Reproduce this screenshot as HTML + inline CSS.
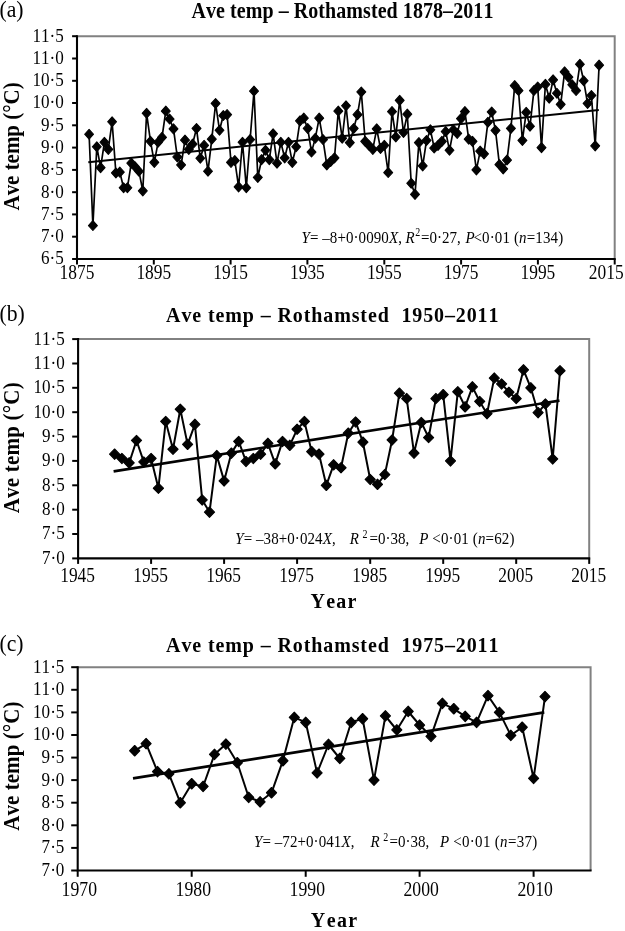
<!DOCTYPE html>
<html><head><meta charset="utf-8"><title>Ave temp Rothamsted</title>
<style>
html,body{margin:0;padding:0;background:#fff;}
body{width:625px;height:931px;overflow:hidden;font-family:"Liberation Serif",serif;}
svg{display:block;}
svg text{font-family:"Liberation Serif",serif;fill:#000;font-kerning:none;}
</style></head><body>
<svg width="625" height="931" viewBox="0 0 625 931">
<rect width="625" height="931" fill="#fff"/>
<g opacity="0.995">
<path d="M77.0 36.2H614.7V259.0" fill="none" stroke="#808080" stroke-width="2" stroke-linejoin="miter"/>
<path d="M77.0 35.2V259.0H615.7" fill="none" stroke="#000" stroke-width="2.1"/>
<path d="M72.1 259.0H77.0" stroke="#000" stroke-width="2.0"/>
<text transform="translate(63.7 264.4) scale(1 1.16)" font-size="17.1" text-anchor="end" >6·5</text>
<path d="M72.1 236.7H77.0" stroke="#000" stroke-width="2.0"/>
<text transform="translate(63.7 242.1) scale(1 1.16)" font-size="17.1" text-anchor="end" >7·0</text>
<path d="M72.1 214.4H77.0" stroke="#000" stroke-width="2.0"/>
<text transform="translate(63.7 219.8) scale(1 1.16)" font-size="17.1" text-anchor="end" >7·5</text>
<path d="M72.1 192.2H77.0" stroke="#000" stroke-width="2.0"/>
<text transform="translate(63.7 197.6) scale(1 1.16)" font-size="17.1" text-anchor="end" >8·0</text>
<path d="M72.1 169.9H77.0" stroke="#000" stroke-width="2.0"/>
<text transform="translate(63.7 175.3) scale(1 1.16)" font-size="17.1" text-anchor="end" >8·5</text>
<path d="M72.1 147.6H77.0" stroke="#000" stroke-width="2.0"/>
<text transform="translate(63.7 153.0) scale(1 1.16)" font-size="17.1" text-anchor="end" >9·0</text>
<path d="M72.1 125.3H77.0" stroke="#000" stroke-width="2.0"/>
<text transform="translate(63.7 130.7) scale(1 1.16)" font-size="17.1" text-anchor="end" >9·5</text>
<path d="M72.1 103.0H77.0" stroke="#000" stroke-width="2.0"/>
<text transform="translate(63.7 108.4) scale(1 1.16)" font-size="17.1" text-anchor="end" >10·0</text>
<path d="M72.1 80.8H77.0" stroke="#000" stroke-width="2.0"/>
<text transform="translate(63.7 86.2) scale(1 1.16)" font-size="17.1" text-anchor="end" >10·5</text>
<path d="M72.1 58.5H77.0" stroke="#000" stroke-width="2.0"/>
<text transform="translate(63.7 63.9) scale(1 1.16)" font-size="17.1" text-anchor="end" >11·0</text>
<path d="M72.1 36.2H77.0" stroke="#000" stroke-width="2.0"/>
<text transform="translate(63.7 41.6) scale(1 1.16)" font-size="17.1" text-anchor="end" >11·5</text>
<path d="M77.0 259.0V264.5" stroke="#000" stroke-width="2.0"/>
<text transform="translate(77.0 279.0) scale(1 1.16)" font-size="17.4" text-anchor="middle" >1875</text>
<path d="M153.8 259.0V264.5" stroke="#000" stroke-width="2.0"/>
<text transform="translate(153.8 279.0) scale(1 1.16)" font-size="17.4" text-anchor="middle" >1895</text>
<path d="M230.6 259.0V264.5" stroke="#000" stroke-width="2.0"/>
<text transform="translate(230.6 279.0) scale(1 1.16)" font-size="17.4" text-anchor="middle" >1915</text>
<path d="M307.4 259.0V264.5" stroke="#000" stroke-width="2.0"/>
<text transform="translate(307.4 279.0) scale(1 1.16)" font-size="17.4" text-anchor="middle" >1935</text>
<path d="M384.3 259.0V264.5" stroke="#000" stroke-width="2.0"/>
<text transform="translate(384.3 279.0) scale(1 1.16)" font-size="17.4" text-anchor="middle" >1955</text>
<path d="M461.1 259.0V264.5" stroke="#000" stroke-width="2.0"/>
<text transform="translate(461.1 279.0) scale(1 1.16)" font-size="17.4" text-anchor="middle" >1975</text>
<path d="M537.9 259.0V264.5" stroke="#000" stroke-width="2.0"/>
<text transform="translate(537.9 279.0) scale(1 1.16)" font-size="17.4" text-anchor="middle" >1995</text>
<path d="M614.7 259.0V264.5" stroke="#000" stroke-width="2.0"/>
<text transform="translate(606.2 279.0) scale(1 1.16)" font-size="17.4" text-anchor="middle" >2015</text>
<polyline points="89.1,134.2 92.9,225.6 96.8,146.7 100.6,167.7 104.4,142.3 108.3,149.4 112.1,121.8 115.9,173.0 119.8,172.1 123.6,187.7 127.4,187.7 131.3,163.2 135.1,166.8 138.9,171.2 142.8,190.8 146.6,113.3 150.5,141.4 154.3,162.3 158.1,142.3 162.0,137.4 165.8,111.1 169.6,119.1 173.5,128.9 177.3,157.0 181.1,165.0 185.0,140.0 188.8,149.4 192.6,144.0 196.5,128.4 200.3,158.3 204.1,145.4 208.0,171.2 211.8,139.1 215.6,103.5 219.5,130.2 223.3,115.5 227.1,114.6 231.0,162.3 234.8,160.5 238.6,186.8 242.5,142.3 246.3,187.7 250.1,139.6 254.0,91.0 257.8,177.5 261.6,159.6 265.5,150.3 269.3,159.6 273.1,133.8 277.0,163.2 280.8,142.3 284.7,157.8 288.5,142.3 292.3,162.3 296.2,146.7 300.0,120.9 303.8,118.2 307.7,128.4 311.5,152.1 315.3,138.2 319.2,118.2 323.0,139.6 326.8,165.0 330.7,161.4 334.5,157.8 338.3,111.1 342.2,138.2 346.0,105.7 349.8,142.7 353.7,128.4 357.5,114.6 361.3,91.9 365.2,141.4 369.0,145.4 372.8,149.4 376.7,128.9 380.5,148.5 384.3,145.4 388.2,172.6 392.0,111.5 395.8,136.9 399.7,100.4 403.5,132.4 407.3,114.2 411.2,183.2 415.0,194.4 418.9,142.7 422.7,165.9 426.5,140.5 430.4,129.8 434.2,148.0 438.0,145.4 441.9,141.4 445.7,131.6 449.5,150.3 453.4,129.8 457.2,133.3 461.0,118.6 464.9,111.5 468.7,139.1 472.5,141.4 476.4,169.9 480.2,151.2 484.0,153.8 487.9,122.2 491.7,112.0 495.5,130.4 499.4,164.5 503.2,169.0 507.0,160.1 510.9,128.4 514.7,85.7 518.5,90.6 522.4,140.5 526.2,112.4 530.0,126.2 533.9,90.6 537.7,87.0 541.5,147.6 545.4,84.3 549.2,98.1 553.1,79.9 556.9,93.2 560.7,104.4 564.6,71.8 568.4,77.2 572.2,84.8 576.1,90.6 579.9,64.3 583.7,80.8 587.6,103.5 591.4,95.5 595.2,145.8 599.1,65.2" fill="none" stroke="#000" stroke-width="1.7" stroke-linejoin="round"/>
<path d="M89.1 129.3l4.45 4.95l-4.45 4.95l-4.45 -4.95zM92.9 220.6l4.45 4.95l-4.45 4.95l-4.45 -4.95zM96.8 141.8l4.45 4.95l-4.45 4.95l-4.45 -4.95zM100.6 162.7l4.45 4.95l-4.45 4.95l-4.45 -4.95zM104.4 137.3l4.45 4.95l-4.45 4.95l-4.45 -4.95zM108.3 144.4l4.45 4.95l-4.45 4.95l-4.45 -4.95zM112.1 116.8l4.45 4.95l-4.45 4.95l-4.45 -4.95zM115.9 168.0l4.45 4.95l-4.45 4.95l-4.45 -4.95zM119.8 167.2l4.45 4.95l-4.45 4.95l-4.45 -4.95zM123.6 182.8l4.45 4.95l-4.45 4.95l-4.45 -4.95zM127.4 182.8l4.45 4.95l-4.45 4.95l-4.45 -4.95zM131.3 158.2l4.45 4.95l-4.45 4.95l-4.45 -4.95zM135.1 161.8l4.45 4.95l-4.45 4.95l-4.45 -4.95zM138.9 166.3l4.45 4.95l-4.45 4.95l-4.45 -4.95zM142.8 185.9l4.45 4.95l-4.45 4.95l-4.45 -4.95zM146.6 108.3l4.45 4.95l-4.45 4.95l-4.45 -4.95zM150.5 136.4l4.45 4.95l-4.45 4.95l-4.45 -4.95zM154.3 157.4l4.45 4.95l-4.45 4.95l-4.45 -4.95zM158.1 137.3l4.45 4.95l-4.45 4.95l-4.45 -4.95zM162.0 132.4l4.45 4.95l-4.45 4.95l-4.45 -4.95zM165.8 106.1l4.45 4.95l-4.45 4.95l-4.45 -4.95zM169.6 114.1l4.45 4.95l-4.45 4.95l-4.45 -4.95zM173.5 123.9l4.45 4.95l-4.45 4.95l-4.45 -4.95zM177.3 152.0l4.45 4.95l-4.45 4.95l-4.45 -4.95zM181.1 160.0l4.45 4.95l-4.45 4.95l-4.45 -4.95zM185.0 135.1l4.45 4.95l-4.45 4.95l-4.45 -4.95zM188.8 144.4l4.45 4.95l-4.45 4.95l-4.45 -4.95zM192.6 139.1l4.45 4.95l-4.45 4.95l-4.45 -4.95zM196.5 123.5l4.45 4.95l-4.45 4.95l-4.45 -4.95zM200.3 153.3l4.45 4.95l-4.45 4.95l-4.45 -4.95zM204.1 140.4l4.45 4.95l-4.45 4.95l-4.45 -4.95zM208.0 166.3l4.45 4.95l-4.45 4.95l-4.45 -4.95zM211.8 134.2l4.45 4.95l-4.45 4.95l-4.45 -4.95zM215.6 98.5l4.45 4.95l-4.45 4.95l-4.45 -4.95zM219.5 125.3l4.45 4.95l-4.45 4.95l-4.45 -4.95zM223.3 110.6l4.45 4.95l-4.45 4.95l-4.45 -4.95zM227.1 109.7l4.45 4.95l-4.45 4.95l-4.45 -4.95zM231.0 157.4l4.45 4.95l-4.45 4.95l-4.45 -4.95zM234.8 155.6l4.45 4.95l-4.45 4.95l-4.45 -4.95zM238.6 181.9l4.45 4.95l-4.45 4.95l-4.45 -4.95zM242.5 137.3l4.45 4.95l-4.45 4.95l-4.45 -4.95zM246.3 182.8l4.45 4.95l-4.45 4.95l-4.45 -4.95zM250.1 134.6l4.45 4.95l-4.45 4.95l-4.45 -4.95zM254.0 86.1l4.45 4.95l-4.45 4.95l-4.45 -4.95zM257.8 172.5l4.45 4.95l-4.45 4.95l-4.45 -4.95zM261.6 154.7l4.45 4.95l-4.45 4.95l-4.45 -4.95zM265.5 145.3l4.45 4.95l-4.45 4.95l-4.45 -4.95zM269.3 154.7l4.45 4.95l-4.45 4.95l-4.45 -4.95zM273.1 128.8l4.45 4.95l-4.45 4.95l-4.45 -4.95zM277.0 158.2l4.45 4.95l-4.45 4.95l-4.45 -4.95zM280.8 137.3l4.45 4.95l-4.45 4.95l-4.45 -4.95zM284.7 152.9l4.45 4.95l-4.45 4.95l-4.45 -4.95zM288.5 137.3l4.45 4.95l-4.45 4.95l-4.45 -4.95zM292.3 157.4l4.45 4.95l-4.45 4.95l-4.45 -4.95zM296.2 141.8l4.45 4.95l-4.45 4.95l-4.45 -4.95zM300.0 115.9l4.45 4.95l-4.45 4.95l-4.45 -4.95zM303.8 113.2l4.45 4.95l-4.45 4.95l-4.45 -4.95zM307.7 123.5l4.45 4.95l-4.45 4.95l-4.45 -4.95zM311.5 147.1l4.45 4.95l-4.45 4.95l-4.45 -4.95zM315.3 133.3l4.45 4.95l-4.45 4.95l-4.45 -4.95zM319.2 113.2l4.45 4.95l-4.45 4.95l-4.45 -4.95zM323.0 134.6l4.45 4.95l-4.45 4.95l-4.45 -4.95zM326.8 160.0l4.45 4.95l-4.45 4.95l-4.45 -4.95zM330.7 156.5l4.45 4.95l-4.45 4.95l-4.45 -4.95zM334.5 152.9l4.45 4.95l-4.45 4.95l-4.45 -4.95zM338.3 106.1l4.45 4.95l-4.45 4.95l-4.45 -4.95zM342.2 133.3l4.45 4.95l-4.45 4.95l-4.45 -4.95zM346.0 100.8l4.45 4.95l-4.45 4.95l-4.45 -4.95zM349.8 137.7l4.45 4.95l-4.45 4.95l-4.45 -4.95zM353.7 123.5l4.45 4.95l-4.45 4.95l-4.45 -4.95zM357.5 109.7l4.45 4.95l-4.45 4.95l-4.45 -4.95zM361.3 87.0l4.45 4.95l-4.45 4.95l-4.45 -4.95zM365.2 136.4l4.45 4.95l-4.45 4.95l-4.45 -4.95zM369.0 140.4l4.45 4.95l-4.45 4.95l-4.45 -4.95zM372.8 144.4l4.45 4.95l-4.45 4.95l-4.45 -4.95zM376.7 123.9l4.45 4.95l-4.45 4.95l-4.45 -4.95zM380.5 143.5l4.45 4.95l-4.45 4.95l-4.45 -4.95zM384.3 140.4l4.45 4.95l-4.45 4.95l-4.45 -4.95zM388.2 167.6l4.45 4.95l-4.45 4.95l-4.45 -4.95zM392.0 106.6l4.45 4.95l-4.45 4.95l-4.45 -4.95zM395.8 132.0l4.45 4.95l-4.45 4.95l-4.45 -4.95zM399.7 95.4l4.45 4.95l-4.45 4.95l-4.45 -4.95zM403.5 127.5l4.45 4.95l-4.45 4.95l-4.45 -4.95zM407.3 109.2l4.45 4.95l-4.45 4.95l-4.45 -4.95zM411.2 178.3l4.45 4.95l-4.45 4.95l-4.45 -4.95zM415.0 189.4l4.45 4.95l-4.45 4.95l-4.45 -4.95zM418.9 137.7l4.45 4.95l-4.45 4.95l-4.45 -4.95zM422.7 160.9l4.45 4.95l-4.45 4.95l-4.45 -4.95zM426.5 135.5l4.45 4.95l-4.45 4.95l-4.45 -4.95zM430.4 124.8l4.45 4.95l-4.45 4.95l-4.45 -4.95zM434.2 143.1l4.45 4.95l-4.45 4.95l-4.45 -4.95zM438.0 140.4l4.45 4.95l-4.45 4.95l-4.45 -4.95zM441.9 136.4l4.45 4.95l-4.45 4.95l-4.45 -4.95zM445.7 126.6l4.45 4.95l-4.45 4.95l-4.45 -4.95zM449.5 145.3l4.45 4.95l-4.45 4.95l-4.45 -4.95zM453.4 124.8l4.45 4.95l-4.45 4.95l-4.45 -4.95zM457.2 128.4l4.45 4.95l-4.45 4.95l-4.45 -4.95zM461.0 113.7l4.45 4.95l-4.45 4.95l-4.45 -4.95zM464.9 106.6l4.45 4.95l-4.45 4.95l-4.45 -4.95zM468.7 134.2l4.45 4.95l-4.45 4.95l-4.45 -4.95zM472.5 136.4l4.45 4.95l-4.45 4.95l-4.45 -4.95zM476.4 164.9l4.45 4.95l-4.45 4.95l-4.45 -4.95zM480.2 146.2l4.45 4.95l-4.45 4.95l-4.45 -4.95zM484.0 148.9l4.45 4.95l-4.45 4.95l-4.45 -4.95zM487.9 117.3l4.45 4.95l-4.45 4.95l-4.45 -4.95zM491.7 107.0l4.45 4.95l-4.45 4.95l-4.45 -4.95zM495.5 125.5l4.45 4.95l-4.45 4.95l-4.45 -4.95zM499.4 159.6l4.45 4.95l-4.45 4.95l-4.45 -4.95zM503.2 164.0l4.45 4.95l-4.45 4.95l-4.45 -4.95zM507.0 155.1l4.45 4.95l-4.45 4.95l-4.45 -4.95zM510.9 123.5l4.45 4.95l-4.45 4.95l-4.45 -4.95zM514.7 80.7l4.45 4.95l-4.45 4.95l-4.45 -4.95zM518.5 85.6l4.45 4.95l-4.45 4.95l-4.45 -4.95zM522.4 135.5l4.45 4.95l-4.45 4.95l-4.45 -4.95zM526.2 107.4l4.45 4.95l-4.45 4.95l-4.45 -4.95zM530.0 121.3l4.45 4.95l-4.45 4.95l-4.45 -4.95zM533.9 85.6l4.45 4.95l-4.45 4.95l-4.45 -4.95zM537.7 82.0l4.45 4.95l-4.45 4.95l-4.45 -4.95zM541.5 142.7l4.45 4.95l-4.45 4.95l-4.45 -4.95zM545.4 79.4l4.45 4.95l-4.45 4.95l-4.45 -4.95zM549.2 93.2l4.45 4.95l-4.45 4.95l-4.45 -4.95zM553.1 74.9l4.45 4.95l-4.45 4.95l-4.45 -4.95zM556.9 88.3l4.45 4.95l-4.45 4.95l-4.45 -4.95zM560.7 99.4l4.45 4.95l-4.45 4.95l-4.45 -4.95zM564.6 66.9l4.45 4.95l-4.45 4.95l-4.45 -4.95zM568.4 72.2l4.45 4.95l-4.45 4.95l-4.45 -4.95zM572.2 79.8l4.45 4.95l-4.45 4.95l-4.45 -4.95zM576.1 85.6l4.45 4.95l-4.45 4.95l-4.45 -4.95zM579.9 59.3l4.45 4.95l-4.45 4.95l-4.45 -4.95zM583.7 75.8l4.45 4.95l-4.45 4.95l-4.45 -4.95zM587.6 98.5l4.45 4.95l-4.45 4.95l-4.45 -4.95zM591.4 90.5l4.45 4.95l-4.45 4.95l-4.45 -4.95zM595.2 140.9l4.45 4.95l-4.45 4.95l-4.45 -4.95zM599.1 60.2l4.45 4.95l-4.45 4.95l-4.45 -4.95z" fill="#000" stroke="#000" stroke-width="1.1" stroke-linejoin="round"/>
<path d="M88.3 162.2L598.8 109.9" stroke="#000" stroke-width="2.0"/>
<text transform="translate(342.4 17.9) scale(1 1.13)" font-size="20.0" text-anchor="middle" font-weight="bold" textLength="302" lengthAdjust="spacing" xml:space="preserve">Ave temp – Rothamsted 1878–2011</text>
<text transform="translate(-0.6 16.6) scale(1 1.06)" font-size="21.7" text-anchor="start" >(a)</text>
<text transform="translate(19.0 146.4) rotate(-90) scale(1 1.12)" font-size="21.0" font-weight="bold" text-anchor="middle" textLength="128.2" lengthAdjust="spacing">Ave temp (°C)</text>
<path d="M78.1 339.1H589.2V558.4" fill="none" stroke="#808080" stroke-width="2" stroke-linejoin="miter"/>
<path d="M78.1 338.1V558.4H590.2" fill="none" stroke="#000" stroke-width="2.1"/>
<path d="M72.2 558.4H78.1" stroke="#000" stroke-width="2.0"/>
<text transform="translate(64.8 563.8) scale(1 1.16)" font-size="17.1" text-anchor="end" >7·0</text>
<path d="M72.2 534.0H78.1" stroke="#000" stroke-width="2.0"/>
<text transform="translate(64.8 539.4) scale(1 1.16)" font-size="17.1" text-anchor="end" >7·5</text>
<path d="M72.2 509.7H78.1" stroke="#000" stroke-width="2.0"/>
<text transform="translate(64.8 515.1) scale(1 1.16)" font-size="17.1" text-anchor="end" >8·0</text>
<path d="M72.2 485.3H78.1" stroke="#000" stroke-width="2.0"/>
<text transform="translate(64.8 490.7) scale(1 1.16)" font-size="17.1" text-anchor="end" >8·5</text>
<path d="M72.2 460.9H78.1" stroke="#000" stroke-width="2.0"/>
<text transform="translate(64.8 466.3) scale(1 1.16)" font-size="17.1" text-anchor="end" >9·0</text>
<path d="M72.2 436.6H78.1" stroke="#000" stroke-width="2.0"/>
<text transform="translate(64.8 442.0) scale(1 1.16)" font-size="17.1" text-anchor="end" >9·5</text>
<path d="M72.2 412.2H78.1" stroke="#000" stroke-width="2.0"/>
<text transform="translate(64.8 417.6) scale(1 1.16)" font-size="17.1" text-anchor="end" >10·0</text>
<path d="M72.2 387.8H78.1" stroke="#000" stroke-width="2.0"/>
<text transform="translate(64.8 393.2) scale(1 1.16)" font-size="17.1" text-anchor="end" >10·5</text>
<path d="M72.2 363.5H78.1" stroke="#000" stroke-width="2.0"/>
<text transform="translate(64.8 368.9) scale(1 1.16)" font-size="17.1" text-anchor="end" >11·0</text>
<path d="M72.2 339.1H78.1" stroke="#000" stroke-width="2.0"/>
<text transform="translate(64.8 344.5) scale(1 1.16)" font-size="17.1" text-anchor="end" >11·5</text>
<path d="M78.1 558.4V563.9" stroke="#000" stroke-width="2.0"/>
<text transform="translate(77.6 582.2) scale(1 1.16)" font-size="17.4" text-anchor="middle" >1945</text>
<path d="M151.1 558.4V563.9" stroke="#000" stroke-width="2.0"/>
<text transform="translate(150.6 582.2) scale(1 1.16)" font-size="17.4" text-anchor="middle" >1955</text>
<path d="M224.1 558.4V563.9" stroke="#000" stroke-width="2.0"/>
<text transform="translate(223.6 582.2) scale(1 1.16)" font-size="17.4" text-anchor="middle" >1965</text>
<path d="M297.1 558.4V563.9" stroke="#000" stroke-width="2.0"/>
<text transform="translate(296.6 582.2) scale(1 1.16)" font-size="17.4" text-anchor="middle" >1975</text>
<path d="M370.2 558.4V563.9" stroke="#000" stroke-width="2.0"/>
<text transform="translate(369.7 582.2) scale(1 1.16)" font-size="17.4" text-anchor="middle" >1985</text>
<path d="M443.2 558.4V563.9" stroke="#000" stroke-width="2.0"/>
<text transform="translate(442.7 582.2) scale(1 1.16)" font-size="17.4" text-anchor="middle" >1995</text>
<path d="M516.2 558.4V563.9" stroke="#000" stroke-width="2.0"/>
<text transform="translate(515.7 582.2) scale(1 1.16)" font-size="17.4" text-anchor="middle" >2005</text>
<path d="M589.2 558.4V563.9" stroke="#000" stroke-width="2.0"/>
<text transform="translate(588.7 582.2) scale(1 1.16)" font-size="17.4" text-anchor="middle" >2015</text>
<polyline points="114.6,454.1 121.9,458.5 129.2,462.9 136.5,440.5 143.8,461.9 151.1,458.5 158.4,488.2 165.7,421.5 173.0,449.2 180.3,409.3 187.6,444.4 194.9,424.4 202.2,499.9 209.5,512.1 216.8,455.6 224.1,480.9 231.4,453.1 238.7,441.4 246.0,461.4 253.3,458.5 260.6,454.1 267.9,443.4 275.2,463.9 282.5,441.4 289.8,445.3 297.1,429.3 304.4,421.5 311.7,451.7 319.0,454.1 326.3,485.3 333.6,464.8 341.0,467.8 348.3,433.2 355.6,421.9 362.9,442.2 370.2,479.5 377.5,484.3 384.8,474.6 392.1,440.0 399.4,393.2 406.7,398.6 414.0,453.1 421.3,422.4 428.6,437.5 435.9,398.6 443.2,394.7 450.5,460.9 457.8,391.7 465.1,406.8 472.4,386.9 479.7,401.5 487.0,413.7 494.3,378.1 501.6,383.9 508.9,392.2 516.2,398.6 523.5,369.8 530.8,387.8 538.1,412.7 545.4,403.9 552.7,459.0 560.0,370.8" fill="none" stroke="#000" stroke-width="2.0" stroke-linejoin="round"/>
<path d="M114.6 449.0l5.05 5.15l-5.05 5.15l-5.05 -5.15zM121.9 453.3l5.05 5.15l-5.05 5.15l-5.05 -5.15zM129.2 457.7l5.05 5.15l-5.05 5.15l-5.05 -5.15zM136.5 435.3l5.05 5.15l-5.05 5.15l-5.05 -5.15zM143.8 456.8l5.05 5.15l-5.05 5.15l-5.05 -5.15zM151.1 453.3l5.05 5.15l-5.05 5.15l-5.05 -5.15zM158.4 483.1l5.05 5.15l-5.05 5.15l-5.05 -5.15zM165.7 416.3l5.05 5.15l-5.05 5.15l-5.05 -5.15zM173.0 444.1l5.05 5.15l-5.05 5.15l-5.05 -5.15zM180.3 404.1l5.05 5.15l-5.05 5.15l-5.05 -5.15zM187.6 439.2l5.05 5.15l-5.05 5.15l-5.05 -5.15zM194.9 419.2l5.05 5.15l-5.05 5.15l-5.05 -5.15zM202.2 494.8l5.05 5.15l-5.05 5.15l-5.05 -5.15zM209.5 507.0l5.05 5.15l-5.05 5.15l-5.05 -5.15zM216.8 450.4l5.05 5.15l-5.05 5.15l-5.05 -5.15zM224.1 475.8l5.05 5.15l-5.05 5.15l-5.05 -5.15zM231.4 448.0l5.05 5.15l-5.05 5.15l-5.05 -5.15zM238.7 436.3l5.05 5.15l-5.05 5.15l-5.05 -5.15zM246.0 456.3l5.05 5.15l-5.05 5.15l-5.05 -5.15zM253.3 453.3l5.05 5.15l-5.05 5.15l-5.05 -5.15zM260.6 449.0l5.05 5.15l-5.05 5.15l-5.05 -5.15zM267.9 438.2l5.05 5.15l-5.05 5.15l-5.05 -5.15zM275.2 458.7l5.05 5.15l-5.05 5.15l-5.05 -5.15zM282.5 436.3l5.05 5.15l-5.05 5.15l-5.05 -5.15zM289.8 440.2l5.05 5.15l-5.05 5.15l-5.05 -5.15zM297.1 424.1l5.05 5.15l-5.05 5.15l-5.05 -5.15zM304.4 416.3l5.05 5.15l-5.05 5.15l-5.05 -5.15zM311.7 446.5l5.05 5.15l-5.05 5.15l-5.05 -5.15zM319.0 449.0l5.05 5.15l-5.05 5.15l-5.05 -5.15zM326.3 480.2l5.05 5.15l-5.05 5.15l-5.05 -5.15zM333.6 459.7l5.05 5.15l-5.05 5.15l-5.05 -5.15zM341.0 462.6l5.05 5.15l-5.05 5.15l-5.05 -5.15zM348.3 428.0l5.05 5.15l-5.05 5.15l-5.05 -5.15zM355.6 416.8l5.05 5.15l-5.05 5.15l-5.05 -5.15zM362.9 437.0l5.05 5.15l-5.05 5.15l-5.05 -5.15zM370.2 474.3l5.05 5.15l-5.05 5.15l-5.05 -5.15zM377.5 479.2l5.05 5.15l-5.05 5.15l-5.05 -5.15zM384.8 469.4l5.05 5.15l-5.05 5.15l-5.05 -5.15zM392.1 434.8l5.05 5.15l-5.05 5.15l-5.05 -5.15zM399.4 388.0l5.05 5.15l-5.05 5.15l-5.05 -5.15zM406.7 393.4l5.05 5.15l-5.05 5.15l-5.05 -5.15zM414.0 448.0l5.05 5.15l-5.05 5.15l-5.05 -5.15zM421.3 417.3l5.05 5.15l-5.05 5.15l-5.05 -5.15zM428.6 432.4l5.05 5.15l-5.05 5.15l-5.05 -5.15zM435.9 393.4l5.05 5.15l-5.05 5.15l-5.05 -5.15zM443.2 389.5l5.05 5.15l-5.05 5.15l-5.05 -5.15zM450.5 455.8l5.05 5.15l-5.05 5.15l-5.05 -5.15zM457.8 386.6l5.05 5.15l-5.05 5.15l-5.05 -5.15zM465.1 401.7l5.05 5.15l-5.05 5.15l-5.05 -5.15zM472.4 381.7l5.05 5.15l-5.05 5.15l-5.05 -5.15zM479.7 396.3l5.05 5.15l-5.05 5.15l-5.05 -5.15zM487.0 408.5l5.05 5.15l-5.05 5.15l-5.05 -5.15zM494.3 372.9l5.05 5.15l-5.05 5.15l-5.05 -5.15zM501.6 378.8l5.05 5.15l-5.05 5.15l-5.05 -5.15zM508.9 387.1l5.05 5.15l-5.05 5.15l-5.05 -5.15zM516.2 393.4l5.05 5.15l-5.05 5.15l-5.05 -5.15zM523.5 364.7l5.05 5.15l-5.05 5.15l-5.05 -5.15zM530.8 382.7l5.05 5.15l-5.05 5.15l-5.05 -5.15zM538.1 407.5l5.05 5.15l-5.05 5.15l-5.05 -5.15zM545.4 398.8l5.05 5.15l-5.05 5.15l-5.05 -5.15zM552.7 453.8l5.05 5.15l-5.05 5.15l-5.05 -5.15zM560.0 365.6l5.05 5.15l-5.05 5.15l-5.05 -5.15z" fill="#000" stroke="#000" stroke-width="1.1" stroke-linejoin="round"/>
<path d="M113.6 471.4L559.5 400.6" stroke="#000" stroke-width="2.6"/>
<text transform="translate(332.3 322.2) scale(1 1.05)" font-size="20.0" text-anchor="middle" font-weight="bold" textLength="332.4" lengthAdjust="spacing" xml:space="preserve">Ave temp – Rothamsted  1950–2011</text>
<text transform="translate(-0.6 320.7) scale(1 1.06)" font-size="21.7" text-anchor="start" >(b)</text>
<text transform="translate(19.0 447.8) rotate(-90) scale(1 1.12)" font-size="21.0" font-weight="bold" text-anchor="middle" textLength="130.9" lengthAdjust="spacing">Ave temp (°C)</text>
<text transform="translate(333.5 608.0) scale(1 1.07)" font-size="20.0" text-anchor="middle" font-weight="bold" textLength="46.0" lengthAdjust="spacing">Year</text>
<path d="M77.7 667.2H590.6V870.5" fill="none" stroke="#808080" stroke-width="2" stroke-linejoin="miter"/>
<path d="M77.7 666.2V870.5H591.6" fill="none" stroke="#000" stroke-width="2.1"/>
<path d="M71.2 870.5H77.7" stroke="#000" stroke-width="2.0"/>
<text transform="translate(64.4 875.9) scale(1 1.16)" font-size="17.1" text-anchor="end" >7·0</text>
<path d="M71.2 847.9H77.7" stroke="#000" stroke-width="2.0"/>
<text transform="translate(64.4 853.3) scale(1 1.16)" font-size="17.1" text-anchor="end" >7·5</text>
<path d="M71.2 825.3H77.7" stroke="#000" stroke-width="2.0"/>
<text transform="translate(64.4 830.7) scale(1 1.16)" font-size="17.1" text-anchor="end" >8·0</text>
<path d="M71.2 802.7H77.7" stroke="#000" stroke-width="2.0"/>
<text transform="translate(64.4 808.1) scale(1 1.16)" font-size="17.1" text-anchor="end" >8·5</text>
<path d="M71.2 780.1H77.7" stroke="#000" stroke-width="2.0"/>
<text transform="translate(64.4 785.5) scale(1 1.16)" font-size="17.1" text-anchor="end" >9·0</text>
<path d="M71.2 757.6H77.7" stroke="#000" stroke-width="2.0"/>
<text transform="translate(64.4 763.0) scale(1 1.16)" font-size="17.1" text-anchor="end" >9·5</text>
<path d="M71.2 735.0H77.7" stroke="#000" stroke-width="2.0"/>
<text transform="translate(64.4 740.4) scale(1 1.16)" font-size="17.1" text-anchor="end" >10·0</text>
<path d="M71.2 712.4H77.7" stroke="#000" stroke-width="2.0"/>
<text transform="translate(64.4 717.8) scale(1 1.16)" font-size="17.1" text-anchor="end" >10·5</text>
<path d="M71.2 689.8H77.7" stroke="#000" stroke-width="2.0"/>
<text transform="translate(64.4 695.2) scale(1 1.16)" font-size="17.1" text-anchor="end" >11·0</text>
<path d="M71.2 667.2H77.7" stroke="#000" stroke-width="2.0"/>
<text transform="translate(64.4 672.6) scale(1 1.16)" font-size="17.1" text-anchor="end" >11·5</text>
<path d="M77.7 870.5V876.8" stroke="#000" stroke-width="2.0"/>
<text transform="translate(79.3 895.8) scale(1 1.16)" font-size="17.7" text-anchor="middle" >1970</text>
<path d="M191.7 870.5V876.8" stroke="#000" stroke-width="2.0"/>
<text transform="translate(193.3 895.8) scale(1 1.16)" font-size="17.7" text-anchor="middle" >1980</text>
<path d="M305.7 870.5V876.8" stroke="#000" stroke-width="2.0"/>
<text transform="translate(307.3 895.8) scale(1 1.16)" font-size="17.7" text-anchor="middle" >1990</text>
<path d="M419.6 870.5V876.8" stroke="#000" stroke-width="2.0"/>
<text transform="translate(421.2 895.8) scale(1 1.16)" font-size="17.7" text-anchor="middle" >2000</text>
<path d="M533.6 870.5V876.8" stroke="#000" stroke-width="2.0"/>
<text transform="translate(535.2 895.8) scale(1 1.16)" font-size="17.7" text-anchor="middle" >2010</text>
<polyline points="134.7,750.8 146.1,743.6 157.5,771.6 168.9,773.8 180.3,802.7 191.7,783.8 203.1,786.5 214.5,754.4 225.9,744.0 237.3,762.8 248.7,797.3 260.1,801.8 271.5,792.8 282.9,760.7 294.3,717.3 305.7,722.3 317.1,772.9 328.5,744.5 339.8,758.5 351.2,722.3 362.6,718.7 374.0,780.1 385.4,716.0 396.8,730.0 408.2,711.5 419.6,725.0 431.0,736.3 442.4,703.3 453.8,708.8 465.2,716.4 476.6,722.3 488.0,695.7 499.4,712.4 510.8,735.4 522.2,727.3 533.6,778.3 545.0,696.6" fill="none" stroke="#000" stroke-width="2.0" stroke-linejoin="round"/>
<path d="M134.7 745.5l5.05 5.25l-5.05 5.25l-5.05 -5.25zM146.1 738.3l5.05 5.25l-5.05 5.25l-5.05 -5.25zM157.5 766.3l5.05 5.25l-5.05 5.25l-5.05 -5.25zM168.9 768.6l5.05 5.25l-5.05 5.25l-5.05 -5.25zM180.3 797.5l5.05 5.25l-5.05 5.25l-5.05 -5.25zM191.7 778.5l5.05 5.25l-5.05 5.25l-5.05 -5.25zM203.1 781.2l5.05 5.25l-5.05 5.25l-5.05 -5.25zM214.5 749.1l5.05 5.25l-5.05 5.25l-5.05 -5.25zM225.9 738.8l5.05 5.25l-5.05 5.25l-5.05 -5.25zM237.3 757.5l5.05 5.25l-5.05 5.25l-5.05 -5.25zM248.7 792.1l5.05 5.25l-5.05 5.25l-5.05 -5.25zM260.1 796.6l5.05 5.25l-5.05 5.25l-5.05 -5.25zM271.5 787.5l5.05 5.25l-5.05 5.25l-5.05 -5.25zM282.9 755.5l5.05 5.25l-5.05 5.25l-5.05 -5.25zM294.3 712.1l5.05 5.25l-5.05 5.25l-5.05 -5.25zM305.7 717.1l5.05 5.25l-5.05 5.25l-5.05 -5.25zM317.1 767.7l5.05 5.25l-5.05 5.25l-5.05 -5.25zM328.5 739.2l5.05 5.25l-5.05 5.25l-5.05 -5.25zM339.8 753.2l5.05 5.25l-5.05 5.25l-5.05 -5.25zM351.2 717.1l5.05 5.25l-5.05 5.25l-5.05 -5.25zM362.6 713.5l5.05 5.25l-5.05 5.25l-5.05 -5.25zM374.0 774.9l5.05 5.25l-5.05 5.25l-5.05 -5.25zM385.4 710.7l5.05 5.25l-5.05 5.25l-5.05 -5.25zM396.8 724.7l5.05 5.25l-5.05 5.25l-5.05 -5.25zM408.2 706.2l5.05 5.25l-5.05 5.25l-5.05 -5.25zM419.6 719.8l5.05 5.25l-5.05 5.25l-5.05 -5.25zM431.0 731.1l5.05 5.25l-5.05 5.25l-5.05 -5.25zM442.4 698.1l5.05 5.25l-5.05 5.25l-5.05 -5.25zM453.8 703.5l5.05 5.25l-5.05 5.25l-5.05 -5.25zM465.2 711.2l5.05 5.25l-5.05 5.25l-5.05 -5.25zM476.6 717.1l5.05 5.25l-5.05 5.25l-5.05 -5.25zM488.0 690.4l5.05 5.25l-5.05 5.25l-5.05 -5.25zM499.4 707.1l5.05 5.25l-5.05 5.25l-5.05 -5.25zM510.8 730.2l5.05 5.25l-5.05 5.25l-5.05 -5.25zM522.2 722.0l5.05 5.25l-5.05 5.25l-5.05 -5.25zM533.6 773.1l5.05 5.25l-5.05 5.25l-5.05 -5.25zM545.0 691.3l5.05 5.25l-5.05 5.25l-5.05 -5.25z" fill="#000" stroke="#000" stroke-width="1.1" stroke-linejoin="round"/>
<path d="M133.0 778.4L544.3 712.4" stroke="#000" stroke-width="2.6"/>
<text transform="translate(332.3 652.0) scale(1 1.05)" font-size="20.0" text-anchor="middle" font-weight="bold" textLength="332.4" lengthAdjust="spacing" xml:space="preserve">Ave temp – Rothamsted  1975–2011</text>
<text transform="translate(-0.6 650.7) scale(1 1.06)" font-size="21.7" text-anchor="start" >(c)</text>
<text transform="translate(19.0 766.2) rotate(-90) scale(1 1.12)" font-size="21.0" font-weight="bold" text-anchor="middle" textLength="129.3" lengthAdjust="spacing">Ave temp (°C)</text>
<text transform="translate(334.0 927.0) scale(1 1.07)" font-size="20.0" text-anchor="middle" font-weight="bold" textLength="46.3" lengthAdjust="spacing">Year</text>
<text transform="translate(301.5 242.9) scale(1 1.16)" font-size="15.0" text-anchor="start" letter-spacing="0.08"><tspan font-style="italic">Y</tspan>= –8+0·0090<tspan font-style="italic">X</tspan>,</text>
<text transform="translate(405.6 242.9) scale(1 1.16)" font-size="15.0" text-anchor="start" ><tspan font-style="italic">R</tspan></text>
<text transform="translate(415.3 236.4) scale(1 1.16)" font-size="10.0" text-anchor="start" >2</text>
<text transform="translate(421.0 242.9) scale(1 1.16)" font-size="15.0" text-anchor="start" >=0·27,</text>
<text transform="translate(465.6 242.9) scale(1 1.16)" font-size="15.0" text-anchor="start" ><tspan font-style="italic">P</tspan></text>
<text transform="translate(473.4 242.9) scale(1 1.16)" font-size="15.0" text-anchor="start" letter-spacing="0.14">&lt;0·01 (<tspan font-style="italic">n</tspan>=134)</text>
<text transform="translate(235.2 544.2) scale(1 1.16)" font-size="15.0" text-anchor="start" letter-spacing="0.08"><tspan font-style="italic">Y</tspan>= –38+0·024<tspan font-style="italic">X</tspan>,</text>
<text transform="translate(349.8 544.2) scale(1 1.16)" font-size="15.0" text-anchor="start" ><tspan font-style="italic">R</tspan></text>
<text transform="translate(362.6 537.7) scale(1 1.16)" font-size="10.0" text-anchor="start" >2</text>
<text transform="translate(369.5 544.2) scale(1 1.16)" font-size="15.0" text-anchor="start" >=0·38,</text>
<text transform="translate(419.2 544.2) scale(1 1.16)" font-size="15.0" text-anchor="start" ><tspan font-style="italic">P</tspan></text>
<text transform="translate(432.3 544.2) scale(1 1.16)" font-size="15.0" text-anchor="start" letter-spacing="0.14">&lt;0·01 (<tspan font-style="italic">n</tspan>=62)</text>
<text transform="translate(254.0 847.4) scale(1 1.16)" font-size="15.0" text-anchor="start" letter-spacing="0.08"><tspan font-style="italic">Y</tspan>= –72+0·041<tspan font-style="italic">X</tspan>,</text>
<text transform="translate(370.4 847.4) scale(1 1.16)" font-size="15.0" text-anchor="start" ><tspan font-style="italic">R</tspan></text>
<text transform="translate(383.2 840.9) scale(1 1.16)" font-size="10.0" text-anchor="start" >2</text>
<text transform="translate(389.6 847.4) scale(1 1.16)" font-size="15.0" text-anchor="start" >=0·38,</text>
<text transform="translate(440.0 847.4) scale(1 1.16)" font-size="15.0" text-anchor="start" ><tspan font-style="italic">P</tspan></text>
<text transform="translate(453.2 847.4) scale(1 1.16)" font-size="15.0" text-anchor="start" letter-spacing="0.32">&lt;0·01 (<tspan font-style="italic">n</tspan>=37)</text>
</g>
</svg>
</body></html>
